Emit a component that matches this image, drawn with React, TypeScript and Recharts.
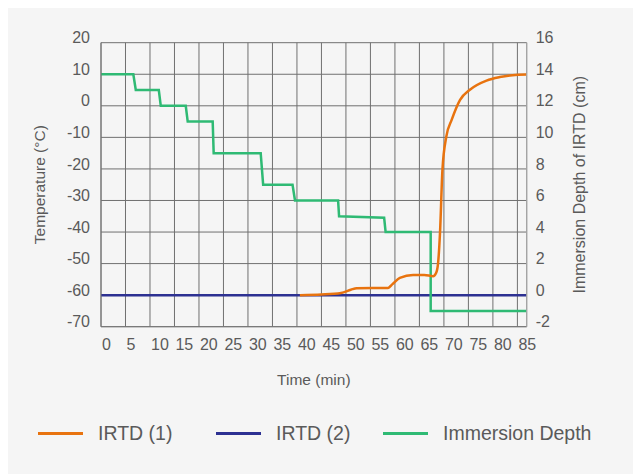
import React from 'react'
import { LineChart, Line, XAxis, YAxis, CartesianGrid, Label } from 'recharts'

const timeTicks = [0, 5, 10, 15, 20, 25, 30, 35, 40, 45, 50, 55, 60, 65, 70, 75, 80, 85]
const tempTicks = [20, 10, 0, -10, -20, -30, -40, -50, -60, -70]
const depthTicks = [16, 14, 12, 10, 8, 6, 4, 2, 0, -2]

// IRTD (1) temperature, deg C
const irtd1Time = [40.6, 45, 49, 51, 52.2, 58.6, 59.5, 61, 63.7, 66, 67.8, 68.4, 68.8, 69.2, 69.7, 70.5, 71.6, 73.3, 75.3, 78.7, 81.4, 84, 86.9]
const irtd1Temp = [-60, -59.8, -59.3, -58.3, -57.8, -57.7, -56.5, -54.5, -53.6, -53.6, -54, -53, -50, -40.4, -20.3, -9.7, -4.4, 1.9, 5.1, 8.0, 9.1, 9.7, 9.9]

// IRTD (2) temperature, deg C
const irtd2Time = [0, 86.9]
const irtd2Temp = [-60, -60]

// immersion depth, cm
const depthTime = [0, 6.6, 7.1, 11.8, 12.2, 17.3, 17.7, 22.8, 23, 32.6, 33.1, 39.1, 39.6, 48.4, 48.6, 57.8, 58.1, 67.3, 67.3, 86.9]
const depthCm = [14, 14, 13, 13, 12, 12, 11, 11, 9, 9, 7, 7, 6, 6, 5, 4.9, 4, 4, -1, -1]

const zip = (xs: number[], ys: number[]) => xs.map((t, i) => ({ t, v: ys[i] }))

const irtd1 = zip(irtd1Time, irtd1Temp)
const irtd2 = zip(irtd2Time, irtd2Temp)
const depth = zip(depthTime, depthCm)

const FONT = '"Liberation Sans", Arial, sans-serif'
const TEXT = '#5a5a5a'

const LeftTick = ({ x, y, payload }: any) => (
  <text x={x} y={y - 5} dy="0.355em" textAnchor="end" fill={TEXT} fontSize={16} fontFamily={FONT}>{payload.value}</text>
)
const RightTick = ({ x, y, payload }: any) => (
  <text x={x} y={y - 5} dy="0.355em" textAnchor="start" fill={TEXT} fontSize={16} fontFamily={FONT}>{payload.value}</text>
)
const BottomTick = ({ x, y, payload }: any) => (
  <text x={x + 1} y={y} dy="0.71em" textAnchor="start" fill={TEXT} fontSize={16} fontFamily={FONT}>{payload.value}</text>
)

const legendItems = [
  { name: 'IRTD (1)', color: '#e8730f', w: 178 },
  { name: 'IRTD (2)', color: '#2d3192', w: 167 },
  { name: 'Immersion Depth', color: '#2fba74', w: 240 },
]

const App: React.FC = () => {
  return (
    <div style={{ position: 'absolute', left: 8, top: 8, width: 625, height: 466, background: '#f5f5f5' }}>
      <LineChart width={625} height={466} data={depth} margin={{ top: 34.7, right: 46.3, bottom: 117.3, left: 33 }}>
        <CartesianGrid stroke="#707070" strokeWidth={1} />
        <XAxis dataKey="t" type="number" domain={[0, 86.9]} ticks={timeTicks} interval={0}
          tickSize={0} tickMargin={12} tick={<BottomTick />} axisLine={{ stroke: '#777' }} height={30}>
          <Label value="Time (min)" position="center" dy={38} style={{ fill: TEXT, fontSize: 15.5, fontFamily: FONT }} />
        </XAxis>
        <YAxis domain={[-70, 20]} ticks={tempTicks} interval={0} tickSize={0} tickMargin={11}
          tick={<LeftTick />} axisLine={{ stroke: '#777' }} width={60}>
          <Label value="Temperature (°C)" angle={-90} position="center" dx={-31} style={{ fill: TEXT, fontSize: 15.5, fontFamily: FONT }} />
        </YAxis>
        <YAxis yAxisId="depth" orientation="right" domain={[-2, 16]} ticks={depthTicks} interval={0} tickSize={0}
          tickMargin={9} tick={<RightTick />} axisLine={{ stroke: '#aaa' }} width={60}>
          <Label value="Immersion Depth of IRTD (cm)" angle={-90} position="center" dx={23} style={{ fill: TEXT, fontSize: 16, fontFamily: FONT }} />
        </YAxis>
        <Line data={irtd2} dataKey="v" type="linear" stroke="#2d3192" strokeWidth={2.5} dot={false} isAnimationActive={false} />
        <Line data={depth} dataKey="v" yAxisId="depth" type="linear" stroke="#2fba74" strokeWidth={2.5} dot={false} isAnimationActive={false} />
        <Line data={irtd1} dataKey="v" type="monotone" stroke="#e8730f" strokeWidth={2.5} dot={false} isAnimationActive={false} />
      </LineChart>
      <div style={{ position: 'absolute', left: 30, top: 414, display: 'flex', alignItems: 'center', fontFamily: FONT, fontSize: 19.5, color: TEXT }}>
        {legendItems.map((it) => (
          <div key={it.name} style={{ display: 'flex', alignItems: 'center', width: it.w, whiteSpace: 'nowrap' }}>
            <div style={{ width: 45, height: 3, background: it.color, marginRight: 15 }} />
            <span>{it.name}</span>
          </div>
        ))}
      </div>
    </div>
  )
}

export default App
